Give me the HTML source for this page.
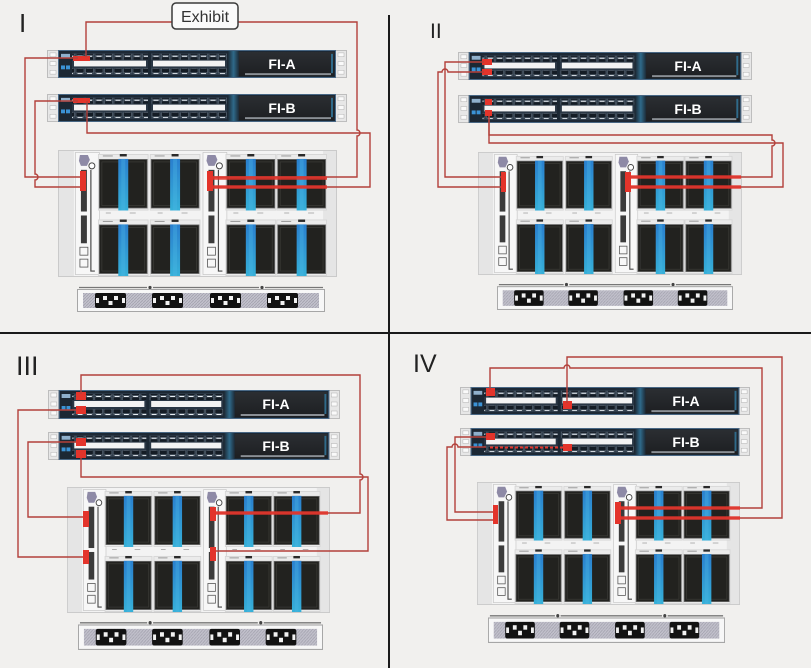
<!DOCTYPE html>
<html><head><meta charset="utf-8"><style>
html,body{margin:0;padding:0;background:#f1f0ee;}
svg{display:block;}
</style></head><body>
<svg width="811" height="668" viewBox="0 0 811 668" xmlns="http://www.w3.org/2000/svg">
<defs>
<linearGradient id="blue" x1="0" y1="0" x2="0" y2="1"><stop offset="0" stop-color="#2a7fce"/><stop offset="1" stop-color="#36b0d8"/></linearGradient>
<linearGradient id="teal" x1="0" y1="0" x2="1" y2="0"><stop offset="0" stop-color="#1d2a36"/><stop offset=".5" stop-color="#2f6a8a"/><stop offset="1" stop-color="#1d2a36"/></linearGradient>
<linearGradient id="lbl" x1="0" y1="0" x2="0" y2="1"><stop offset="0" stop-color="#2b2e32"/><stop offset="1" stop-color="#1d1f22"/></linearGradient>
<pattern id="ports" patternUnits="userSpaceOnUse" width="9.5" height="6"><rect x="0.5" y="1" width="8" height="4.5" fill="#141c25" stroke="#6f7d8b" stroke-width=".5"/><rect x="2" y="0" width="5" height="1" fill="#e8eef3"/></pattern>
<pattern id="hatch" patternUnits="userSpaceOnUse" width="3" height="3"><rect width="3" height="3" fill="#c2c1cc"/><path d="M0,3 L3,0" stroke="#a3a2ae" stroke-width=".8"/></pattern>

<symbol id="sw" viewBox="0 0 300 29" preserveAspectRatio="none">
 <rect x="0.5" y="0.5" width="11" height="28" fill="#e7e7e7" stroke="#bdbdbd"/>
 <rect x="3" y="3" width="6" height="4" fill="#fafafa" stroke="#b0b0b0" stroke-width=".5"/>
 <rect x="3" y="12" width="6" height="4" fill="#fafafa" stroke="#b0b0b0" stroke-width=".5"/>
 <rect x="3" y="21" width="6" height="4" fill="#fafafa" stroke="#b0b0b0" stroke-width=".5"/>
 <rect x="288.5" y="0.5" width="11" height="28" fill="#e7e7e7" stroke="#bdbdbd"/>
 <rect x="291" y="3" width="6" height="4" fill="#fafafa" stroke="#b0b0b0" stroke-width=".5"/>
 <rect x="291" y="12" width="6" height="4" fill="#fafafa" stroke="#b0b0b0" stroke-width=".5"/>
 <rect x="291" y="21" width="6" height="4" fill="#fafafa" stroke="#b0b0b0" stroke-width=".5"/>
 <rect x="11" y="0" width="278" height="29" fill="#1c2834"/>
 <rect x="11.5" y="0.5" width="277" height="28" fill="none" stroke="#4a6a88" stroke-width="1"/>
 <rect x="14" y="4" width="9" height="4" fill="#8fb0cc"/>
 <rect x="14" y="16" width="4" height="4" fill="#3b93d6"/>
 <rect x="19" y="16" width="4" height="4" fill="#3b93d6"/>
 <rect x="25" y="3" width="76" height="23" fill="#2a3745"/>
 <rect x="25" y="4" width="76" height="6" fill="url(#ports)"/>
 <rect x="27" y="11" width="72" height="6" fill="#f3f3f3"/>
 <rect x="25" y="19" width="76" height="6" fill="url(#ports)"/>
 <rect x="104" y="3" width="76" height="23" fill="#2a3745"/>
 <rect x="104" y="4" width="76" height="6" fill="url(#ports)"/>
 <rect x="106" y="11" width="72" height="6" fill="#f3f3f3"/>
 <rect x="104" y="19" width="76" height="6" fill="url(#ports)"/>
 <rect x="181" y="1" width="11" height="27" fill="url(#teal)"/>
 <rect x="192" y="2" width="95" height="25" fill="url(#lbl)"/>
 <rect x="198" y="24" width="86" height="2" fill="#8b9096"/>
 <rect x="284" y="4" width="2" height="20" fill="#2f6a8a"/>
</symbol>

<symbol id="iom" viewBox="0 0 25 124" preserveAspectRatio="none">
 <rect x="0.5" y="0.5" width="24" height="123" fill="#f7f7f7" stroke="#bdbdbd" stroke-width=".6"/>
 <path d="M5,3 L13,3 L15,8 L12,14 L6,14 L4,9 Z" fill="#8e8aa6"/>
 <circle cx="17" cy="14" r="3" fill="#fff" stroke="#444" stroke-width="1"/>
 <rect x="6" y="18" width="6" height="42" fill="#3b3b3b"/>
 <rect x="6" y="64" width="6" height="28" fill="#3b3b3b"/>
 <path d="M16,18 V120 H20" fill="none" stroke="#4a4a4a" stroke-width="1.2"/>
 <rect x="5" y="96" width="8" height="8" fill="none" stroke="#555" stroke-width=".8"/>
 <rect x="5" y="108" width="8" height="8" fill="none" stroke="#555" stroke-width=".8"/>
</symbol>

<symbol id="blade" viewBox="0 0 51 57" preserveAspectRatio="none">
 <rect x="0.5" y="0.5" width="50" height="56" fill="#ebebeb" stroke="#d6d6d6"/>
 <rect x="5" y="1.5" width="10" height="1" fill="#999"/>
 <rect x="22" y="0" width="7" height="2.5" fill="#2a2a2a"/>
 <rect x="1.5" y="5.5" width="48" height="49" fill="#22221f" stroke="#6a6a6a" stroke-width=".8"/>
 <rect x="4" y="8" width="43" height="44" fill="none" stroke="#3a3a36" stroke-width=".8"/>
 <rect x="20.5" y="5" width="10" height="52" fill="url(#blue)"/>
 <rect x="23.5" y="5" width="4" height="52" fill="#4cb6e6" opacity=".35"/>
</symbol>

<symbol id="chassis" viewBox="0 0 280 128" preserveAspectRatio="none">
 <rect x="0.5" y="0.5" width="279" height="127" fill="#f3f3f3" stroke="#cacaca"/>
 <rect x="1" y="1" width="15" height="126" fill="#e5e5e5"/>
 <rect x="266" y="1" width="13" height="126" fill="#e5e5e5"/>
 <use href="#iom" x="17" y="2" width="25" height="124"/>
 <use href="#iom" x="145" y="2" width="25" height="124"/>
 <use href="#blade" x="40" y="4" width="51" height="57"/>
 <use href="#blade" x="92" y="4" width="51" height="57"/>
 <use href="#blade" x="168" y="4" width="51" height="57"/>
 <use href="#blade" x="219" y="4" width="51" height="57"/>
 <use href="#blade" x="40" y="70" width="51" height="57"/>
 <use href="#blade" x="92" y="70" width="51" height="57"/>
 <use href="#blade" x="168" y="70" width="51" height="57"/>
 <use href="#blade" x="219" y="70" width="51" height="57"/>
 <g fill="#b0b0b0"><rect x="48" y="63" width="5" height="1"/><rect x="72" y="63" width="6" height="1"/><rect x="100" y="63" width="5" height="1"/><rect x="124" y="63" width="6" height="1"/><rect x="176" y="63" width="5" height="1"/><rect x="200" y="63" width="6" height="1"/><rect x="227" y="63" width="5" height="1"/><rect x="251" y="63" width="6" height="1"/></g>
</symbol>

<symbol id="strip" viewBox="0 0 248 27" preserveAspectRatio="none">
 <path d="M2,2.5 H70 M76,2.5 H182 M188,2.5 H246" stroke="#777" stroke-width="1.2"/>
 <circle cx="73" cy="2.5" r="1.6" fill="#444"/><circle cx="185" cy="2.5" r="1.6" fill="#444"/>
 <rect x="0.5" y="4.5" width="247" height="22" fill="#f7f7f7" stroke="#a6a6a6"/>
 <rect x="6" y="8" width="236" height="15" fill="url(#hatch)"/>
 <g fill="#121212"><rect x="18" y="8" width="31" height="15" rx="2"/><rect x="75" y="8" width="31" height="15" rx="2"/><rect x="133" y="8" width="31" height="15" rx="2"/><rect x="190" y="8" width="31" height="15" rx="2"/></g>
 <g fill="#f2f2f2">
  <rect x="26" y="11" width="4" height="4"/><rect x="37" y="11" width="4" height="4"/><rect x="31.5" y="16" width="4" height="4"/>
  <rect x="83" y="11" width="4" height="4"/><rect x="94" y="11" width="4" height="4"/><rect x="88.5" y="16" width="4" height="4"/>
  <rect x="141" y="11" width="4" height="4"/><rect x="152" y="11" width="4" height="4"/><rect x="146.5" y="16" width="4" height="4"/>
  <rect x="198" y="11" width="4" height="4"/><rect x="209" y="11" width="4" height="4"/><rect x="203.5" y="16" width="4" height="4"/>
  <rect x="19" y="13" width="3" height="5"/><rect x="45" y="13" width="3" height="5"/><rect x="76" y="13" width="3" height="5"/><rect x="102" y="13" width="3" height="5"/><rect x="134" y="13" width="3" height="5"/><rect x="160" y="13" width="3" height="5"/><rect x="191" y="13" width="3" height="5"/><rect x="217" y="13" width="3" height="5"/>
 </g>
</symbol>
</defs>

<rect width="811" height="668" fill="#f1f0ee"/>

<!-- dividers -->
<line x1="389" y1="15" x2="389" y2="668" stroke="#1a1a1a" stroke-width="2"/>
<line x1="0" y1="333" x2="811" y2="333" stroke="#1a1a1a" stroke-width="2"/>

<!-- labels -->
<g font-family="Liberation Sans, sans-serif" fill="#222">
 <text x="19" y="32" font-size="26">I</text>
 <text x="430" y="38" font-size="21">II</text>
 <text x="16" y="375" font-size="27">III</text>
 <text x="413" y="372" font-size="25">IV</text>
</g>

<!-- ============ PANEL I ============ -->
<use href="#sw" x="47" y="50" width="300" height="28"/>
<use href="#sw" x="47" y="94" width="300" height="28"/>
<use href="#chassis" x="58" y="150" width="279" height="127"/>
<use href="#strip" x="77" y="285" width="248" height="27"/>
<!-- ============ PANEL II ============ -->
<use href="#sw" x="458" y="52" width="294" height="28"/>
<use href="#sw" x="458" y="95" width="294" height="28"/>
<use href="#chassis" x="478" y="152" width="264" height="123"/>
<use href="#strip" x="497" y="282" width="236" height="28"/>
<!-- ============ PANEL III ============ -->
<use href="#sw" x="48" y="390" width="292" height="29"/>
<use href="#sw" x="48" y="432" width="292" height="28"/>
<use href="#chassis" x="67" y="487" width="263" height="126"/>
<use href="#strip" x="78" y="620" width="245" height="30"/>
<!-- ============ PANEL IV ============ -->
<use href="#sw" x="460" y="387" width="290" height="28"/>
<use href="#sw" x="460" y="428" width="290" height="28"/>
<use href="#chassis" x="477" y="482" width="263" height="123"/>
<use href="#strip" x="488" y="613" width="237" height="30"/>

<!-- FI labels -->
<g font-family="Liberation Sans, sans-serif" font-weight="bold" font-size="14" fill="#fff" text-anchor="middle">
 <text x="282" y="69">FI-A</text>
 <text x="282" y="113">FI-B</text>
 <text x="688" y="71">FI-A</text>
 <text x="688" y="114">FI-B</text>
 <text x="276" y="409">FI-A</text>
 <text x="276" y="451">FI-B</text>
 <text x="686" y="406">FI-A</text>
 <text x="686" y="447">FI-B</text>
</g>

<!-- red port markers -->
<g fill="#e3342b">
 <!-- I -->
 <rect x="73" y="56" width="17" height="5"/><rect x="73" y="98" width="17" height="5"/>
 <rect x="80" y="171" width="6" height="20"/><rect x="207" y="171" width="6" height="20"/>
 <!-- II -->
 <rect x="482" y="59" width="10" height="6"/><rect x="482" y="69" width="10" height="6"/>
 <rect x="485" y="99" width="7" height="6"/><rect x="485" y="110" width="7" height="6"/>
 <rect x="501" y="172" width="5" height="20"/><rect x="625" y="172" width="6" height="20"/>
 <!-- III -->
 <rect x="76" y="392" width="10" height="8"/><rect x="76" y="406" width="10" height="8"/>
 <rect x="76" y="438" width="10" height="8"/><rect x="76" y="450" width="10" height="8"/>
 <rect x="83" y="511" width="6" height="16"/><rect x="83" y="550" width="6" height="14"/>
 <rect x="210" y="507" width="6" height="14"/><rect x="210" y="547" width="6" height="14"/>
 <!-- IV -->
 <rect x="486" y="388" width="9" height="8"/><rect x="563" y="401" width="9" height="8"/>
 <rect x="486" y="433" width="9" height="7"/><rect x="563" y="444" width="9" height="7"/>
 <rect x="493" y="505" width="5" height="19"/><rect x="615" y="502" width="6" height="22"/>
</g>
<path d="M490,447.5 H566" stroke="#e3342b" stroke-width="2" stroke-dasharray="3 2" fill="none"/>

<!-- thin cables -->
<g fill="none" stroke="#b3403a" stroke-width="1.4">
 <!-- I -->
 <path d="M86,57 V22 H172"/>
 <path d="M238,22 H357 V130 a3,3 0 0 1 0,6 V177 H213"/>
 <path d="M87,101 V133 H370 V187 H213"/>
 <path d="M78,58 H25 V177 H80"/>
 <path d="M78,101 H35 V174 a3,3 0 0 1 0,6 V187 H80"/>
 <!-- II -->
 <path d="M484,62 H445 V177 H501"/>
 <path d="M484,72 H448 a3,3 0 0 0 -6,0 H438 V187 H501"/>
 <path d="M489,116 V135 H772 V140 a3,3 0 0 1 0,6 V177 H631"/>
 <path d="M489,116 V143 H783 V187 H631"/>
 <!-- III -->
 <path d="M81,394 V375 H360 V474 a3,3 0 0 1 0,6 V513 H216"/>
 <path d="M76,410 H18 V557 H83"/>
 <path d="M76,442 H28 V517 H83"/>
 <path d="M81,458 V477 H368 V551 H216"/>
 <!-- IV -->
 <path d="M490,390 V368 H564 a3,3 0 0 1 6,0 H762 V508 H621"/>
 <path d="M567,403 V357 H782 V518 H621"/>
 <path d="M486,437 H455 V512 H493"/>
 <path d="M486,447 H458 a3,3 0 0 0 -6,0 H447 V520 H493"/>
</g>

<!-- thick bars over blades -->
<g stroke="#e3342b" stroke-width="3.5" opacity=".88" fill="none">
 <path d="M212,178 H327"/><path d="M212,187 H327"/>
 <path d="M631,177 H741"/><path d="M631,187 H741"/>
 <path d="M216,513 H328"/>
 <path d="M621,508 H740"/><path d="M621,518 H740"/>
</g>

<!-- Exhibit box -->
<rect x="172" y="3" width="66" height="26" rx="4" fill="#fafafa" stroke="#3a3a3a" stroke-width="1.5"/>
<text x="205" y="22" font-family="Liberation Sans, sans-serif" font-size="16" fill="#333" text-anchor="middle">Exhibit</text>
</svg>
</body></html>
